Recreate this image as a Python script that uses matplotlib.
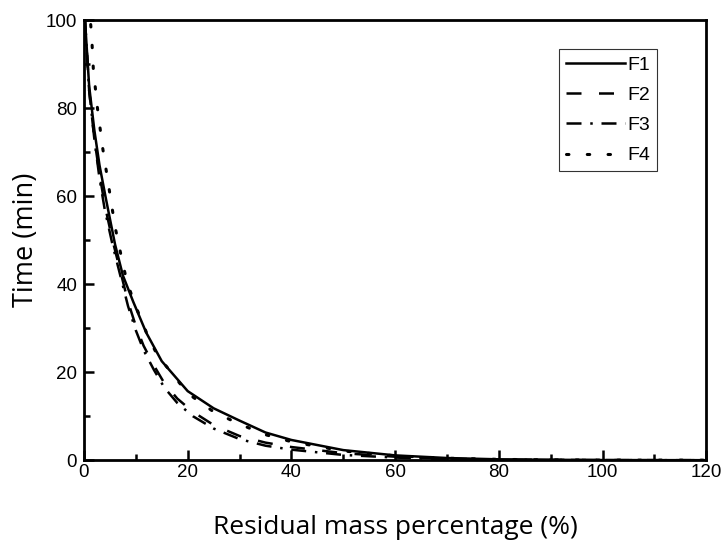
import numpy as np
import matplotlib
matplotlib.use("Agg")
import matplotlib.pyplot as plt
from matplotlib.ticker import MultipleLocator

# residual mass percentage (x) and time (y)
f1_x = [0.2, 1, 2, 3, 4.3, 6, 7.5, 9.5, 12, 15, 20, 25, 30, 35, 40, 50, 60, 70, 80, 90, 100, 110, 120]
f1_y = [100, 85, 75, 67, 59, 49, 42, 36, 29, 22.5, 15.7, 11.8, 9, 6.3, 4.6, 2.3, 1.1, 0.5, 0.2, 0.1, 0.04, 0.02, 0.01]

f2_x = [0.2, 1, 2, 3, 4, 5.5, 7, 8.5, 10, 11.5, 13.5, 15.5, 18, 21, 25, 30, 35, 40, 50, 60, 70, 80, 100, 120]
f2_y = [100, 84, 73, 65, 58, 50, 43, 36, 30.5, 26, 21.5, 17.5, 14, 11, 8, 5.5, 4, 3, 1.6, 0.8, 0.35, 0.15, 0.03, 0.005]

f3_x = [0.2, 1, 2, 3, 4, 5.5, 7, 8.5, 10, 11.5, 13.5, 15.5, 18, 21, 25, 30, 35, 40, 50, 60, 70, 80, 100, 120]
f3_y = [100, 84, 73, 64, 57, 49, 42, 35, 29.5, 25, 20.5, 16.5, 13, 10, 7.2, 4.8, 3.3, 2.4, 1.2, 0.6, 0.25, 0.1, 0.02, 0.003]

f4_x = [1.3, 1.5, 1.8, 2.6, 3.6, 4.8, 6, 7.5, 8.3, 9.7, 12.4, 14.1, 20, 25, 30, 35, 40, 50, 60, 70, 80, 90, 100, 120]
f4_y = [99, 96, 89, 80, 71, 62, 53, 44.6, 40.5, 35.8, 28, 24, 15.2, 11, 8.2, 5.8, 4.2, 2.1, 1.0, 0.45, 0.2, 0.08, 0.03, 0.005]

fig = plt.figure(figsize=(7.22, 5.44), dpi=100)
ax = fig.add_axes([0.1163, 0.154, 0.862, 0.809])

lw = 1.8
ax.plot(f1_x, f1_y, color="black", lw=lw, label="F1")
ax.plot(f2_x, f2_y, color="black", lw=lw, dashes=(6, 7), label="F2")
ax.plot(f3_x, f3_y, color="black", lw=lw, dashes=(6, 3.5, 1, 3.5), label="F3")
ax.plot(f4_x, f4_y, color="black", lw=2.2, dashes=(0.8, 6), dash_capstyle="round", label="F4")

ax.set_xlim(0, 120)
ax.set_ylim(0, 100)
ax.xaxis.set_major_locator(MultipleLocator(20))
ax.xaxis.set_minor_locator(MultipleLocator(10))
ax.yaxis.set_major_locator(MultipleLocator(20))
ax.yaxis.set_minor_locator(MultipleLocator(10))
ax.tick_params(which="both", direction="in", width=1.8, labelsize=13.5, pad=5)
ax.tick_params(axis="x", pad=3)
ax.tick_params(which="major", length=7)
ax.tick_params(which="minor", length=4)
for lab in ax.get_xticklabels() + ax.get_yticklabels():
    lab.set_family("Liberation Sans")
for s in ax.spines.values():
    s.set_linewidth(2)

ax.set_xlabel("Residual mass percentage (%)", fontsize=19, family="Open Sans", labelpad=24)
ax.set_ylabel("Time (min)", fontsize=19.5, family="Open Sans", labelpad=4)

leg = ax.legend(loc="upper right", bbox_to_anchor=(0.921, 0.934), fancybox=False,
                edgecolor="black", handlelength=3.0, borderpad=0.35, labelspacing=0.65,
                handletextpad=0.15, borderaxespad=0, prop={"family": "Liberation Sans", "size": 14})
leg.get_frame().set_linewidth(0.8)

fig.savefig("out.png", dpi=100)
